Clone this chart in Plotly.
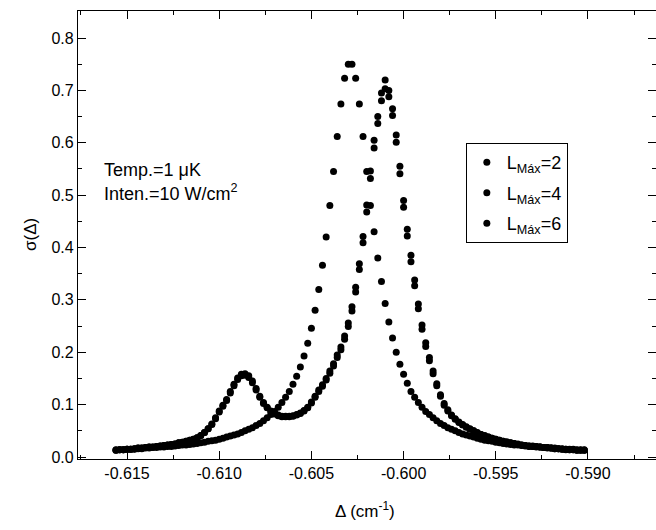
import plotly.graph_objects as go

# Detuning grid (cm^-1)
delta = [
    -0.6156, -0.6154, -0.6152, -0.6150, -0.6148, -0.6146, -0.6144, -0.6142, -0.6140, -0.6138,
    -0.6136, -0.6134, -0.6132, -0.6130, -0.6128, -0.6126, -0.6124, -0.6122, -0.6120, -0.6118,
    -0.6116, -0.6114, -0.6112, -0.6110, -0.6108, -0.6106, -0.6104, -0.6102, -0.6100, -0.6098,
    -0.6096, -0.6094, -0.6092, -0.6090, -0.6088, -0.6086, -0.6084, -0.6082, -0.6080, -0.6078,
    -0.6076, -0.6074, -0.6072, -0.6070, -0.6068, -0.6066, -0.6064, -0.6062, -0.6060, -0.6058,
    -0.6056, -0.6054, -0.6052, -0.6050, -0.6048, -0.6046, -0.6044, -0.6042, -0.6040, -0.6038,
    -0.6036, -0.6034, -0.6032, -0.6030, -0.6028, -0.6026, -0.6024, -0.6022, -0.6020, -0.6018,
    -0.6016, -0.6014, -0.6012, -0.6010, -0.6008, -0.6006, -0.6004, -0.6002, -0.6000, -0.5998,
    -0.5996, -0.5994, -0.5992, -0.5990, -0.5988, -0.5986, -0.5984, -0.5982, -0.5980, -0.5978,
    -0.5976, -0.5974, -0.5972, -0.5970, -0.5968, -0.5966, -0.5964, -0.5962, -0.5960, -0.5958,
    -0.5956, -0.5954, -0.5952, -0.5950, -0.5948, -0.5946, -0.5944, -0.5942, -0.5940, -0.5938,
    -0.5936, -0.5934, -0.5932, -0.5930, -0.5928, -0.5926, -0.5924, -0.5922, -0.5920, -0.5918,
    -0.5916, -0.5914, -0.5912, -0.5910, -0.5908, -0.5906, -0.5904, -0.5902,
]

sigma_L2 = [
    0.014, 0.014, 0.014, 0.015, 0.015, 0.015, 0.016, 0.016, 0.017, 0.017,
    0.018, 0.018, 0.019, 0.019, 0.020, 0.020, 0.021, 0.022, 0.023, 0.023,
    0.024, 0.025, 0.026, 0.027, 0.028, 0.030, 0.031, 0.032, 0.034, 0.036,
    0.038, 0.040, 0.042, 0.044, 0.047, 0.050, 0.053, 0.056, 0.060, 0.064,
    0.069, 0.075, 0.081, 0.087, 0.095, 0.104, 0.114, 0.125, 0.139, 0.154,
    0.172, 0.193, 0.217, 0.246, 0.280, 0.320, 0.366, 0.420, 0.480, 0.545,
    0.612, 0.674, 0.723, 0.750, 0.750, 0.723, 0.674, 0.612, 0.545, 0.480,
    0.430, 0.380, 0.335, 0.293, 0.258, 0.227, 0.200, 0.177, 0.158, 0.141,
    0.125, 0.114, 0.104, 0.095, 0.087, 0.081, 0.075, 0.069, 0.064, 0.060,
    0.056, 0.053, 0.050, 0.047, 0.044, 0.042, 0.040, 0.038, 0.036, 0.034,
    0.032, 0.031, 0.030, 0.028, 0.027, 0.026, 0.025, 0.024, 0.023, 0.023,
    0.022, 0.021, 0.020, 0.020, 0.019, 0.019, 0.018, 0.018, 0.017, 0.017,
    0.016, 0.016, 0.015, 0.015, 0.015, 0.014, 0.014, 0.014,
]

sigma_L4 = [
    0.013, 0.014, 0.014, 0.015, 0.015, 0.016, 0.017, 0.017, 0.018, 0.019,
    0.019, 0.020, 0.021, 0.022, 0.023, 0.024, 0.025, 0.027, 0.028, 0.030,
    0.032, 0.034, 0.037, 0.041, 0.047, 0.054, 0.063, 0.075, 0.088, 0.099,
    0.110, 0.125, 0.139, 0.151, 0.158, 0.159, 0.155, 0.145, 0.131, 0.116,
    0.104, 0.095, 0.088, 0.083, 0.080, 0.078, 0.078, 0.078, 0.079, 0.081,
    0.084, 0.089, 0.095, 0.105, 0.116, 0.128, 0.138, 0.150, 0.164, 0.178,
    0.195, 0.210, 0.231, 0.256, 0.287, 0.324, 0.369, 0.421, 0.481, 0.546,
    0.605, 0.650, 0.695, 0.720, 0.700, 0.665, 0.615, 0.555, 0.490, 0.435,
    0.385, 0.338, 0.292, 0.252, 0.218, 0.190, 0.164, 0.140, 0.119, 0.102,
    0.090, 0.080, 0.073, 0.067, 0.062, 0.058, 0.054, 0.050, 0.047, 0.043,
    0.041, 0.038, 0.036, 0.034, 0.032, 0.030, 0.029, 0.027, 0.026, 0.025,
    0.023, 0.022, 0.021, 0.021, 0.020, 0.019, 0.018, 0.018, 0.017, 0.016,
    0.016, 0.015, 0.015, 0.014, 0.014, 0.013, 0.013, 0.013,
]

sigma_L6 = [
    0.013, 0.014, 0.014, 0.015, 0.015, 0.016, 0.017, 0.017, 0.018, 0.019,
    0.019, 0.020, 0.021, 0.022, 0.023, 0.024, 0.025, 0.027, 0.028, 0.030,
    0.032, 0.034, 0.037, 0.041, 0.047, 0.054, 0.062, 0.073, 0.086, 0.097,
    0.108, 0.122, 0.136, 0.148, 0.155, 0.156, 0.152, 0.142, 0.128, 0.114,
    0.102, 0.094, 0.087, 0.082, 0.079, 0.077, 0.077, 0.077, 0.078, 0.080,
    0.083, 0.088, 0.094, 0.103, 0.114, 0.125, 0.135, 0.147, 0.160, 0.174,
    0.190, 0.205, 0.225, 0.249, 0.279, 0.315, 0.358, 0.409, 0.468, 0.532,
    0.590, 0.637, 0.680, 0.703, 0.688, 0.652, 0.601, 0.541, 0.477, 0.422,
    0.373, 0.327, 0.283, 0.244, 0.211, 0.184, 0.159, 0.136, 0.116, 0.099,
    0.088, 0.079, 0.072, 0.066, 0.061, 0.057, 0.053, 0.050, 0.046, 0.043,
    0.040, 0.038, 0.036, 0.034, 0.032, 0.030, 0.028, 0.027, 0.026, 0.024,
    0.023, 0.022, 0.021, 0.020, 0.020, 0.019, 0.018, 0.017, 0.017, 0.016,
    0.016, 0.015, 0.014, 0.014, 0.014, 0.013, 0.013, 0.013,
]

series_names = ["L<sub>Máx</sub>=2", "L<sub>Máx</sub>=4", "L<sub>Máx</sub>=6"]

x_tickvals = [-0.615, -0.610, -0.605, -0.600, -0.595, -0.590]
x_ticktext = ["-0.615", "-0.610", "-0.605", "-0.600", "-0.595", "-0.590"]
y_tickvals = [0.0, 0.1, 0.2, 0.3, 0.4, 0.5, 0.6, 0.7, 0.8]
y_ticktext = ["0.0", "0.1", "0.2", "0.3", "0.4", "0.5", "0.6", "0.7", "0.8"]

FONT = "Liberation Sans, Arial, sans-serif"

fig = go.Figure()
for i, (name, ys) in enumerate(zip(series_names, [sigma_L2, sigma_L4, sigma_L6])):
    fig.add_trace(go.Scatter(
        x=delta, y=ys, mode="markers", name=name,
        legendgroup="g%d" % i,
        marker=dict(color="black", size=7, line=dict(width=0)),
    ))

axis_common = dict(
    showline=True, linecolor="black", linewidth=1.2, mirror="ticks",
    ticks="inside", ticklen=8, tickwidth=1.2, tickcolor="black",
    showgrid=False, zeroline=False,
    tickfont=dict(family=FONT, size=16, color="black"),
)

fig.update_xaxes(
    range=[-0.61766, -0.58631],
    tickvals=x_tickvals, ticktext=x_ticktext,
    minor=dict(ticks="inside", ticklen=4, tickcolor="black", tickwidth=1, dtick=0.0025, tick0=-0.615),
    **axis_common,
)
fig.update_yaxes(
    range=[-0.0038, 0.8516],
    tickvals=y_tickvals, ticktext=y_ticktext,
    minor=dict(ticks="inside", ticklen=4, tickcolor="black", tickwidth=1, dtick=0.05, tick0=0),
    **axis_common,
)

fig.update_layout(
    width=656, height=530,
    margin=dict(l=78, r=0, t=11, b=71),
    paper_bgcolor="white", plot_bgcolor="white",
    font=dict(family=FONT, color="black"),
    showlegend=True,
    legend=dict(
        x=0.671, y=0.705, xanchor="left", yanchor="top",
        bordercolor="black", borderwidth=1, bgcolor="white",
        font=dict(family=FONT, size=18, color="black"),
        tracegroupgap=4, itemsizing="trace",
    ),
    annotations=[
        dict(text="Temp.=1 μK", x=0.0415, y=0.645, xref="paper", yref="paper",
             xanchor="left", yanchor="middle", showarrow=False,
             font=dict(family=FONT, size=18, color="black")),
        dict(text="Inten.=10 W/cm<sup>2</sup>", x=0.0415, y=0.594, xref="paper", yref="paper",
             xanchor="left", yanchor="middle", showarrow=False,
             font=dict(family=FONT, size=18, color="black")),
        dict(text="Δ (cm<sup>-1</sup>)", x=0.4965, y=-0.114, xref="paper", yref="paper",
             xanchor="center", yanchor="middle", showarrow=False,
             font=dict(family=FONT, size=17, color="black")),
        dict(text="σ(Δ)", x=-0.083, y=0.5, xref="paper", yref="paper",
             xanchor="center", yanchor="middle", showarrow=False, textangle=-90,
             font=dict(family=FONT, size=17, color="black")),
    ],
)

fig.write_html("out.html")
